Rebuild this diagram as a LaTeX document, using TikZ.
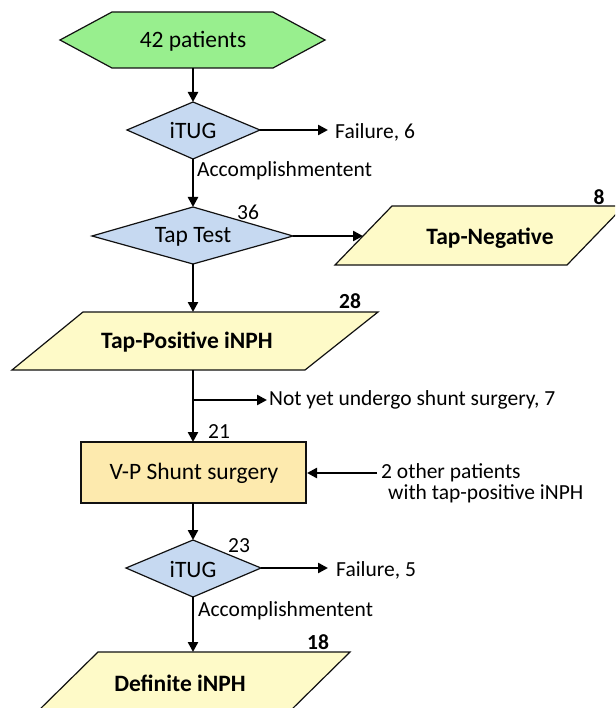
\documentclass[tikz,border=0pt]{standalone}
\usepackage{fontspec}
\setmainfont{Carlito}
\usetikzlibrary{arrows.meta}
\definecolor{hexgreen}{HTML}{98EF8E}
\definecolor{diablue}{HTML}{C6D9F1}
\definecolor{paryellow}{HTML}{FEFAC8}
\definecolor{boxyellow}{HTML}{FDEAAE}
\definecolor{edgegray}{HTML}{111111}
\begin{document}
\begin{tikzpicture}[x=1pt,y=-1pt,
  shapeline/.style={draw=edgegray,line width=1.2pt,line join=miter},
  flow/.style={draw=black,line width=2.4pt,-{Triangle[length=10pt,width=10pt]}},
  maintext/.style={font=\fontsize{23.5}{27}\selectfont,inner sep=0pt},
  boldtext/.style={font=\fontsize{23.5}{27}\selectfont\bfseries,inner sep=0pt},
  lab/.style={font=\fontsize{21.5}{25}\selectfont,inner sep=0pt,anchor=west},
  num/.style={font=\fontsize{21.5}{25}\selectfont,inner sep=0pt},
  bnum/.style={font=\fontsize{21.5}{25}\selectfont\bfseries,inner sep=0pt}]
\useasboundingbox (0,0) rectangle (615,708);
\clip (0,0) rectangle (615,708);
\fill[white] (0,0) rectangle (615,708);

% shapes
\draw[shapeline,fill=hexgreen] (60,40) -- (112,12) -- (273,12) -- (325,40) -- (273,68) -- (112,68) -- cycle;
\draw[shapeline,fill=diablue] (127,130) -- (193,102) -- (260,130) -- (193,159) -- cycle;
\draw[shapeline,fill=diablue] (92,236) -- (193,207) -- (293,236) -- (193,264) -- cycle;
\draw[shapeline,fill=paryellow] (335,265) -- (392,206) -- (624,206) -- (567,265) -- cycle;
\draw[shapeline,fill=paryellow] (12,370) -- (83,312) -- (378,312) -- (305,370) -- cycle;
\draw[shapeline,fill=boxyellow] (81,442) rectangle (306,503);
\draw[shapeline,fill=diablue] (126,568) -- (193,540) -- (261,568) -- (193,597) -- cycle;
\draw[shapeline,fill=paryellow] (35,714) -- (98,652) -- (350,652) -- (287,714) -- cycle;

% anchors
\coordinate (patB) at (193,68);
\coordinate (it1T) at (193,102);
\coordinate (it1R) at (260,130);
\coordinate (f6L) at (328,130);
\coordinate (it1B) at (193,159);
\coordinate (ttT) at (193,207);
\coordinate (ttR) at (293,236);
\coordinate (ttB) at (193,264);
\coordinate (negL) at (363,236);
\coordinate (posT) at (193,312);
\coordinate (posB) at (193,370);
\coordinate (br) at (193,400);
\coordinate (brR) at (267,400);
\coordinate (vpT) at (193,442);
\coordinate (vpR) at (307,473);
\coordinate (vpB) at (193,503);
\coordinate (it2T) at (193,540);
\coordinate (it2R) at (261,568);
\coordinate (f5L) at (328,568);
\coordinate (it2B) at (193,597);
\coordinate (defT) at (193,652);
\coordinate (othL) at (377,473);

% texts
\node[maintext] (pat) at (193,41) {42 patients};
\node[maintext] (it1) at (193,131) {iTUG};
\node[lab] (f6) at (335,132) {Failure, 6};
\node[lab] (acc1) at (197,171) {Accomplishmentent};
\node[maintext] (tt) at (193,237) {Tap Test};
\node[num] (n36) at (248,212) {36};
\node[boldtext] (neg) at (490,238) {Tap-Negative};
\node[bnum] (n8) at (599,197) {8};
\node[boldtext] (pos) at (187,342) {Tap-Positive iNPH};
\node[bnum] (n28) at (350,301) {28};
\node[lab] (notyet) at (269,400) {Not yet undergo shunt surgery, 7};
\node[num] (n21) at (219,432) {21};
\node[maintext] (vp) at (194,473) {V-P Shunt surgery};
\node[lab] (oth1) at (381,473) {2 other patients};
\node[lab] (oth2) at (388,494) {with tap-positive iNPH};
\node[maintext] (it2) at (193,569) {iTUG};
\node[num] (n23) at (239,546) {23};
\node[lab] (f5) at (336,570) {Failure, 5};
\node[lab] (acc2) at (198,611) {Accomplishmentent};
\node[boldtext] (def) at (180,683) {Definite iNPH};
\node[bnum] (n18) at (318,642) {18};

% connectors
\draw[flow] (patB) -- (it1T);
\draw[flow] (it1R) -- (f6L);
\draw[flow] (it1B) -- (ttT);
\draw[flow] (ttR) -- (negL);
\draw[flow] (ttB) -- (posT);
\draw[flow] (posB) -- (vpT);
\draw[flow] (br) -- (brR);
\draw[flow] (othL) -- (vpR);
\draw[flow] (vpB) -- (it2T);
\draw[flow] (it2R) -- (f5L);
\draw[flow] (it2B) -- (defT);
\end{tikzpicture}
\end{document}
